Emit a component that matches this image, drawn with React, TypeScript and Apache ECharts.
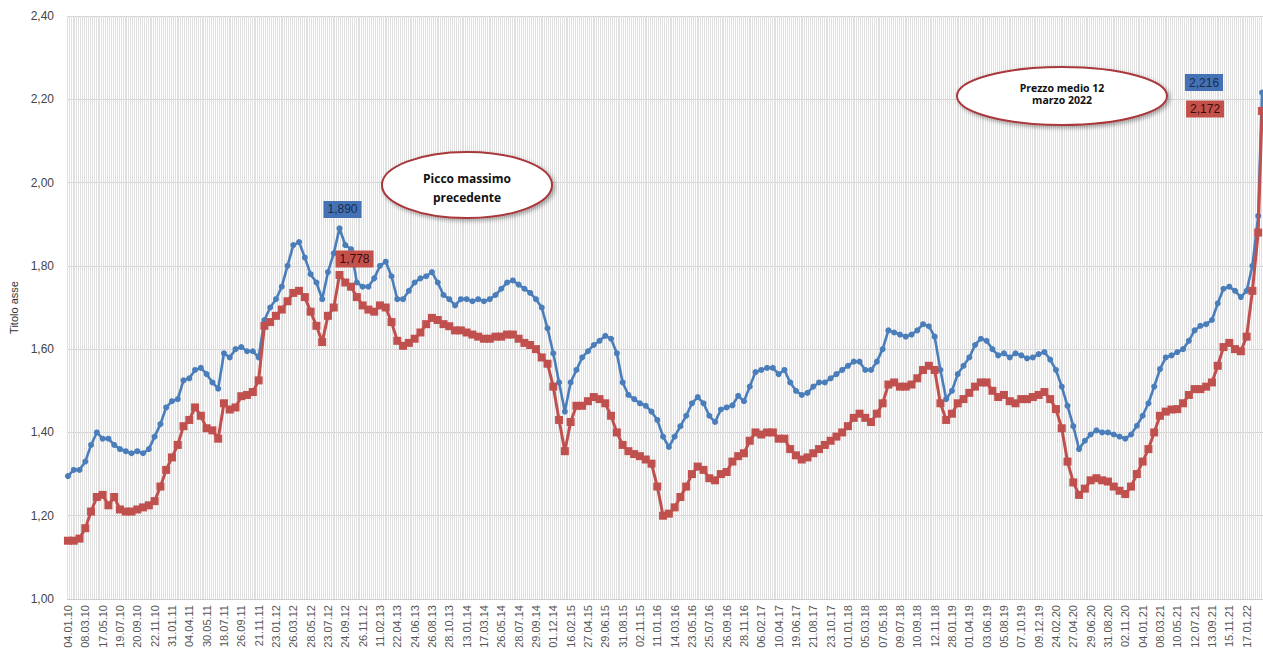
import React, { useEffect, useRef } from "react";
import * as echarts from "echarts";

// Tick labels shown on the category axis (one every 9 weekly categories)
const tickLabels = [
  "04.01.10", "08.03.10", "17.05.10", "19.07.10", "20.09.10", "22.11.10", "31.01.11", "04.04.11", "30.05.11", "18.07.11",
  "26.09.11", "21.11.11", "23.01.12", "26.03.12", "28.05.12", "23.07.12", "24.09.12", "26.11.12", "11.02.13", "22.04.13",
  "24.06.13", "26.08.13", "28.10.13", "13.01.14", "17.03.14", "26.05.14", "28.07.14", "29.09.14", "01.12.14", "16.02.15",
  "27.04.15", "29.06.15", "31.08.15", "02.11.15", "11.01.16", "14.03.16", "23.05.16", "25.07.16", "26.09.16", "28.11.16",
  "06.02.17", "10.04.17", "19.06.17", "21.08.17", "23.10.17", "01.01.18", "05.03.18", "07.05.18", "09.07.18", "10.09.18",
  "12.11.18", "28.01.19", "01.04.19", "03.06.19", "05.08.19", "07.10.19", "09.12.19", "24.02.20", "27.04.20", "29.06.20",
  "31.08.20", "02.11.20", "04.01.21", "08.03.21", "10.05.21", "12.07.21", "13.09.21", "15.11.21", "17.01.22",
];
const LABEL_EVERY = 9;
const SAMPLE_STEP = 3;
const LAST_INDEX = 620;

// Benzina (blue) – values read every 3 weekly categories
const benzina = [
  1.295, 1.31, 1.31, 1.33, 1.37, 1.40, 1.385, 1.385, 1.37, 1.36,
  1.355, 1.35, 1.355, 1.35, 1.36, 1.39, 1.42, 1.46, 1.475, 1.48,
  1.525, 1.53, 1.55, 1.555, 1.54, 1.52, 1.505, 1.59, 1.58, 1.60,
  1.605, 1.595, 1.595, 1.58, 1.67, 1.70, 1.72, 1.75, 1.80, 1.85,
  1.857, 1.82, 1.78, 1.76, 1.72, 1.785, 1.83, 1.89, 1.85, 1.84,
  1.76, 1.75, 1.75, 1.77, 1.80, 1.81, 1.775, 1.72, 1.72, 1.74,
  1.76, 1.77, 1.775, 1.785, 1.76, 1.73, 1.72, 1.705, 1.72, 1.72,
  1.715, 1.72, 1.715, 1.72, 1.73, 1.745, 1.76, 1.765, 1.755, 1.745,
  1.735, 1.72, 1.70, 1.65, 1.59, 1.52, 1.45, 1.52, 1.55, 1.58,
  1.595, 1.61, 1.62, 1.632, 1.625, 1.59, 1.52, 1.49, 1.48, 1.47,
  1.464, 1.45, 1.43, 1.39, 1.365, 1.39, 1.415, 1.44, 1.47, 1.485,
  1.47, 1.44, 1.425, 1.455, 1.46, 1.465, 1.488, 1.475, 1.51, 1.545,
  1.55, 1.555, 1.555, 1.54, 1.55, 1.52, 1.50, 1.49, 1.495, 1.51,
  1.52, 1.52, 1.53, 1.54, 1.55, 1.56, 1.57, 1.57, 1.55, 1.55,
  1.57, 1.60, 1.645, 1.64, 1.635, 1.63, 1.635, 1.645, 1.66, 1.655,
  1.63, 1.55, 1.48, 1.50, 1.54, 1.56, 1.58, 1.61, 1.625, 1.62,
  1.60, 1.585, 1.59, 1.58, 1.59, 1.585, 1.578, 1.58, 1.588, 1.593,
  1.575, 1.55, 1.51, 1.464, 1.415, 1.36, 1.38, 1.395, 1.405, 1.40,
  1.40, 1.395, 1.39, 1.385, 1.395, 1.416, 1.44, 1.47, 1.51, 1.552,
  1.58, 1.585, 1.593, 1.60, 1.62, 1.645, 1.656, 1.66, 1.67, 1.71,
  1.745, 1.75, 1.74, 1.725, 1.74, 1.80, 1.92,
];
const benzinaUltimo = 2.216;

// Gasolio (red)
const gasolio = [
  1.14, 1.14, 1.145, 1.17, 1.21, 1.245, 1.25, 1.225, 1.245, 1.215,
  1.21, 1.21, 1.215, 1.22, 1.225, 1.235, 1.27, 1.31, 1.34, 1.37,
  1.415, 1.43, 1.46, 1.44, 1.41, 1.405, 1.385, 1.47, 1.455, 1.46,
  1.487, 1.49, 1.497, 1.525, 1.656, 1.665, 1.68, 1.695, 1.715, 1.735,
  1.74, 1.725, 1.69, 1.656, 1.617, 1.68, 1.70, 1.778, 1.76, 1.75,
  1.725, 1.705, 1.695, 1.69, 1.705, 1.70, 1.665, 1.62, 1.608, 1.615,
  1.625, 1.64, 1.66, 1.675, 1.67, 1.66, 1.655, 1.645, 1.645, 1.64,
  1.635, 1.63, 1.625, 1.625, 1.63, 1.63, 1.635, 1.635, 1.625, 1.615,
  1.61, 1.60, 1.58, 1.565, 1.51, 1.43, 1.355, 1.425, 1.464, 1.464,
  1.475, 1.485, 1.48, 1.47, 1.44, 1.40, 1.37, 1.355, 1.348, 1.343,
  1.335, 1.325, 1.27, 1.20, 1.205, 1.22, 1.245, 1.27, 1.30, 1.318,
  1.31, 1.29, 1.285, 1.30, 1.305, 1.33, 1.343, 1.35, 1.38, 1.40,
  1.395, 1.40, 1.40, 1.385, 1.385, 1.36, 1.345, 1.335, 1.34, 1.35,
  1.36, 1.37, 1.38, 1.39, 1.40, 1.415, 1.435, 1.445, 1.435, 1.425,
  1.445, 1.47, 1.515, 1.52, 1.51, 1.51, 1.515, 1.53, 1.55, 1.56,
  1.55, 1.47, 1.43, 1.445, 1.47, 1.48, 1.495, 1.51, 1.52, 1.52,
  1.50, 1.485, 1.49, 1.475, 1.47, 1.48, 1.48, 1.485, 1.49, 1.497,
  1.48, 1.456, 1.41, 1.33, 1.28, 1.25, 1.265, 1.285, 1.29, 1.285,
  1.282, 1.27, 1.26, 1.252, 1.27, 1.30, 1.33, 1.36, 1.40, 1.44,
  1.45, 1.455, 1.456, 1.47, 1.49, 1.504, 1.504, 1.51, 1.52, 1.56,
  1.605, 1.615, 1.60, 1.595, 1.63, 1.74, 1.88,
];
const gasolioUltimo = 2.172;

const Y_MIN = 1.0;
const Y_MAX = 2.4;
const Y_STEP = 0.2;

const BLUE = "#4a7ebb";
const RED = "#c0504d";

const fmt = (v: number, d: number) => v.toFixed(d).replace(".", ",");

function toSeries(values: number[], last: number) {
  const pts: [number, number][] = values.map((v, k) => [k * SAMPLE_STEP, v]);
  pts.push([LAST_INDEX, last]);
  return pts;
}

function peakOf(pts: [number, number][], upTo: number) {
  let best = pts[0];
  for (const p of pts) if (p[0] <= upTo && p[1] > best[1]) best = p;
  return best;
}

export default function App() {
  const ref = useRef<HTMLDivElement>(null);

  useEffect(() => {
    const chart = echarts.init(ref.current!, null, { renderer: "svg" });
    const categories = Array.from({ length: LAST_INDEX + 1 }, (_, i) =>
      i % LABEL_EVERY === 0 && tickLabels[i / LABEL_EVERY] ? tickLabels[i / LABEL_EVERY] : ""
    );
    const blueData = toSeries(benzina, benzinaUltimo);
    const redData = toSeries(gasolio, gasolioUltimo);
    const bluePeak = peakOf(blueData, 300);
    const redPeak = peakOf(redData, 300);

    const boxLabel = (bg: string, fg: string) => ({
      show: true,
      position: "inside",
      formatter: (p: any) => fmt(p.value, 3),
      backgroundColor: bg,
      color: fg,
      fontFamily: "Liberation Sans, Arial, sans-serif",
      fontSize: 12,
      padding: [3, 4, 2, 4],
    });

    const ellipse = (cx: number, cy: number, rx: number, ry: number) => ({
      type: "ellipse",
      shape: { cx, cy, rx, ry },
      z: 100,
      style: {
        fill: "#ffffff",
        stroke: "#a8373a",
        lineWidth: 2,
        shadowBlur: 4,
        shadowOffsetX: 2,
        shadowOffsetY: 2,
        shadowColor: "rgba(0,0,0,0.35)",
      },
    });
    const ellText = (x: number, y: number, text: string, size: number) => ({
      type: "text",
      x,
      y,
      z: 101,
      style: {
        text,
        fill: "#111",
        font: `bold ${size}px "Open Sans", sans-serif`,
        textAlign: "center",
        align: "center",
        textVerticalAlign: "middle",
        verticalAlign: "middle",
      },
    });

    chart.setOption({
      animation: false,
      backgroundColor: "#ffffff",
      grid: { left: 67, right: -5, top: 16, bottom: 64, containLabel: false },
      xAxis: [
        {
          type: "category",
          data: categories,
          boundaryGap: true,
          axisLine: { show: false },
          axisTick: { show: false },
          axisLabel: {
            interval: (i: number) => i % LABEL_EVERY === 0,
            rotate: 90,
            margin: 6,
            color: "#555",
            fontSize: 11,
            fontFamily: "Liberation Sans, Arial, sans-serif",
            hideOverlap: false,
          },
          splitLine: { show: true, interval: 0, lineStyle: { color: "#e0e0e0", width: 1 } },
        },
        {
          type: "value",
          min: -0.5,
          max: LAST_INDEX + 0.5,
          show: false,
          splitLine: { show: false },
        },
      ],
      yAxis: {
        type: "value",
        min: Y_MIN,
        max: Y_MAX,
        interval: Y_STEP,
        name: "Titolo asse",
        nameLocation: "middle",
        nameGap: 41,
        nameRotate: 90,
        nameTextStyle: { color: "#333", fontSize: 11, fontFamily: "Liberation Sans, Arial, sans-serif" },
        axisLine: { show: false },
        axisTick: { show: false },
        axisLabel: {
          formatter: (v: number) => fmt(v, 2),
          color: "#444",
          fontSize: 12,
          margin: 13,
          fontFamily: "Liberation Sans, Arial, sans-serif",
        },
        splitLine: { show: true, lineStyle: { color: "#cfcfcf", width: 1 } },
      },
      series: [
        {
          name: "Benzina",
          type: "line",
          xAxisIndex: 1,
          data: blueData,
          symbol: "circle",
          symbolSize: 6,
          lineStyle: { color: BLUE, width: 2.6 },
          itemStyle: { color: BLUE },
          z: 3,
          markPoint: {
            symbol: "circle",
            symbolSize: 1,
            itemStyle: { color: "rgba(0,0,0,0)" },
            label: boxLabel("#4472b4", "#1b2d50"),
            data: [
              { coord: bluePeak, value: bluePeak[1], label: { offset: [3, -19] } },
              { coord: [LAST_INDEX, benzinaUltimo], value: benzinaUltimo, label: { offset: [-58, -10] } },
            ],
          },
        },
        {
          name: "Gasolio",
          type: "line",
          xAxisIndex: 1,
          data: redData,
          symbol: "rect",
          symbolSize: 8,
          lineStyle: { color: RED, width: 3 },
          itemStyle: { color: RED },
          z: 4,
          markPoint: {
            symbol: "circle",
            symbolSize: 1,
            itemStyle: { color: "rgba(0,0,0,0)" },
            label: boxLabel("#c4504c", "#3a0b0b"),
            data: [
              { coord: redPeak, value: redPeak[1], label: { offset: [15, -16] } },
              { coord: [LAST_INDEX, gasolioUltimo], value: gasolioUltimo, label: { offset: [-57, -2] } },
            ],
          },
        },
      ],
      graphic: [
        ellipse(467, 185, 85, 33),
        ellText(467, 178, "Picco massimo", 12),
        ellText(467, 197, "precedente", 12),
        ellipse(1062, 96, 105, 29),
        ellText(1062, 88, "Prezzo medio 12", 10.5),
        ellText(1062, 100, "marzo 2022", 10.5),
      ],
    });
    return () => chart.dispose();
  }, []);

  return <div ref={ref} style={{ position: "absolute", left: 0, top: 0, width: 1263, height: 663 }} />;
}
